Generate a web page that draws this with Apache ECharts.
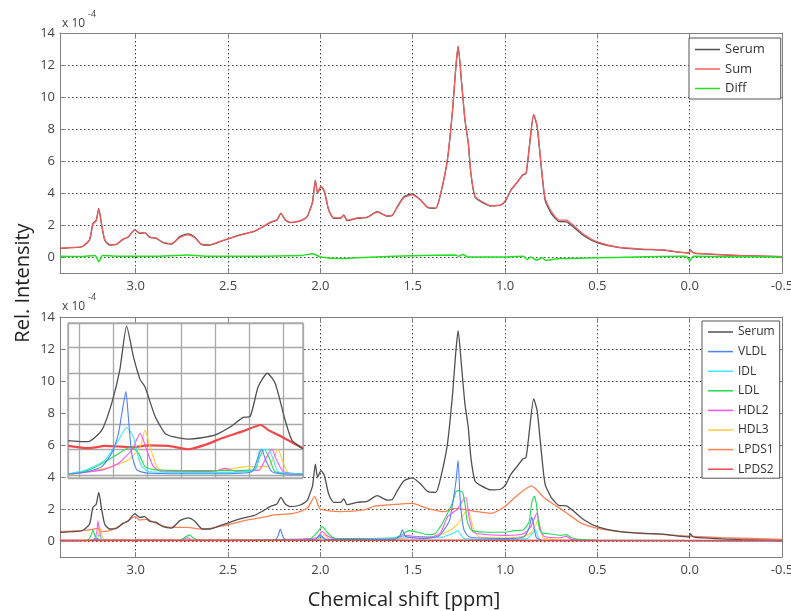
<!DOCTYPE html>
<html><head><meta charset="utf-8">
<script src="https://cdn.jsdelivr.net/npm/echarts@6/dist/echarts.min.js"></script>
<style>html,body{margin:0;padding:0;background:#fff}#c{width:791px;height:611px}</style>
</head><body><div id="c"></div>
<script>
// ---- data: [chemical shift (ppm), rel. intensity (x1e-4)] ----
const serum = [[3.41,0.54],[3.35,0.58],[3.29,0.64],[3.25,1.06],[3.232,2.1],[3.214,2.3],[3.20,3.04],[3.186,2.1],[3.168,1.06],[3.141,0.75],[3.105,0.78],[3.069,1.1],[3.042,1.23],[3.005,1.69],[2.978,1.48],[2.951,1.52],[2.924,1.23],[2.888,1.17],[2.852,0.9],[2.806,0.81],[2.761,1.27],[2.716,1.44],[2.68,1.23],[2.643,0.78],[2.598,0.75],[2.543,0.96],[2.489,1.17],[2.435,1.38],[2.362,1.58],[2.308,1.9],[2.272,2.15],[2.235,2.31],[2.214,2.73],[2.19,2.31],[2.163,2.15],[2.109,2.25],[2.072,2.52],[2.054,3.04],[2.042,3.46],[2.027,4.81],[2.015,3.98],[1.997,4.4],[1.978,4.08],[1.955,2.94],[1.928,2.42],[1.891,2.42],[1.873,2.63],[1.855,2.27],[1.80,2.42],[1.746,2.48],[1.692,2.83],[1.638,2.56],[1.61,2.6],[1.583,3.15],[1.547,3.77],[1.502,3.94],[1.457,3.56],[1.42,3.1],[1.375,3.04],[1.348,3.98],[1.312,6.06],[1.284,9.19],[1.266,11.9],[1.254,13.15],[1.235,10.85],[1.217,8.56],[1.199,7.1],[1.185,5.23],[1.163,3.77],[1.13,3.46],[1.076,3.19],[1.022,3.25],[0.995,3.56],[0.967,4.19],[0.931,4.71],[0.904,5.13],[0.886,5.23],[0.868,6.9],[0.845,8.88],[0.826,8.15],[0.804,5.65],[0.783,3.56],[0.75,2.73],[0.705,2.21],[0.668,2.2],[0.632,1.9],[0.569,1.3],[0.497,0.88],[0.388,0.6],[0.26,0.48],[0.134,0.42],[0.061,0.3],[0.005,0.25],[-0.005,0.45],[-0.015,0.3],[-0.03,0.23],[-0.12,0.17],[-0.283,0.08],[-0.5,0.02]];
const sumSpec = [[3.41,0.55],[3.35,0.6],[3.29,0.66],[3.25,1.1],[3.232,2.05],[3.214,2.25],[3.20,3.0],[3.186,2.15],[3.168,1.1],[3.141,0.78],[3.105,0.8],[3.069,1.12],[3.042,1.25],[3.005,1.7],[2.978,1.5],[2.951,1.52],[2.924,1.25],[2.888,1.18],[2.852,0.92],[2.806,0.83],[2.761,1.22],[2.716,1.38],[2.68,1.2],[2.643,0.8],[2.598,0.78],[2.543,0.98],[2.489,1.18],[2.435,1.36],[2.362,1.6],[2.308,1.92],[2.272,2.17],[2.235,2.33],[2.214,2.75],[2.19,2.33],[2.163,2.17],[2.109,2.27],[2.072,2.5],[2.054,3.0],[2.042,3.42],[2.027,4.78],[2.015,4.0],[1.997,4.42],[1.978,4.1],[1.955,2.96],[1.928,2.45],[1.891,2.45],[1.873,2.6],[1.855,2.3],[1.80,2.44],[1.746,2.5],[1.692,2.8],[1.638,2.58],[1.61,2.62],[1.583,3.12],[1.547,3.72],[1.502,3.88],[1.457,3.55],[1.42,3.12],[1.375,3.06],[1.348,4.0],[1.312,6.1],[1.284,9.2],[1.266,11.95],[1.254,13.2],[1.235,10.9],[1.217,8.6],[1.199,7.15],[1.185,5.25],[1.163,3.8],[1.13,3.5],[1.076,3.2],[1.022,3.27],[0.995,3.58],[0.967,4.2],[0.931,4.72],[0.904,5.15],[0.886,5.25],[0.868,6.95],[0.845,8.92],[0.826,8.2],[0.804,5.75],[0.783,3.7],[0.75,2.85],[0.705,2.3],[0.668,2.3],[0.632,2.0],[0.569,1.38],[0.497,0.93],[0.388,0.62],[0.26,0.5],[0.134,0.44],[0.061,0.3],[0.005,0.26],[-0.005,0.42],[-0.015,0.3],[-0.03,0.24],[-0.12,0.18],[-0.283,0.09],[-0.5,0.02]];
const diffSpec = [[3.41,0.05],[3.3,0.03],[3.22,0.1],[3.20,-0.3],[3.18,0.1],[3.1,0.05],[2.9,0.05],[2.72,0.12],[2.6,0.05],[2.4,0.05],[2.1,0.1],[2.04,0.2],[2.0,0.0],[1.88,-0.1],[1.8,-0.05],[1.6,0.05],[1.5,0.08],[1.27,0.12],[1.25,0.05],[1.23,0.15],[1.2,0.0],[1.0,0.0],[0.9,0.05],[0.88,-0.15],[0.86,0.0],[0.83,-0.2],[0.8,-0.05],[0.78,-0.2],[0.7,-0.1],[0.5,-0.05],[0.3,0.0],[0.02,0.05],[0.0,-0.25],[-0.02,0.05],[-0.2,0.02],[-0.5,0.0]];
const vldl = [[3.41,0.02],[3.25,0.03],[3.21,0.15],[3.19,0.03],[2.25,0.05],[2.23,0.3],[2.217,0.73],[2.2,0.2],[2.18,0.05],[2.03,0.1],[2.0,0.35],[1.97,0.1],[1.6,0.1],[1.57,0.3],[1.556,0.7],[1.54,0.3],[1.50,0.2],[1.45,0.15],[1.36,0.3],[1.33,0.7],[1.30,1.3],[1.28,2.6],[1.265,3.8],[1.254,5.05],[1.245,3.0],[1.235,1.6],[1.222,0.7],[1.2,0.3],[1.17,0.2],[1.0,0.15],[0.9,0.25],[0.87,0.8],[0.855,1.5],[0.845,1.0],[0.83,0.2],[0.8,0.05],[0.5,0.02],[-0.5,0.01]];
const idl = [[3.41,0.02],[3.23,0.05],[3.2,0.4],[3.18,0.05],[2.02,0.05],[2.0,0.3],[1.97,0.05],[1.52,0.2],[1.35,0.2],[1.3,0.4],[1.27,0.55],[1.255,0.65],[1.24,0.4],[1.22,0.15],[1.1,0.1],[0.88,0.15],[0.85,0.5],[0.835,0.69],[0.82,0.2],[0.8,0.05],[-0.5,0.0]];
const ldl = [[3.41,0.02],[3.26,0.05],[3.24,0.4],[3.232,0.69],[3.22,0.3],[3.2,0.05],[2.76,0.05],[2.73,0.25],[2.707,0.38],[2.69,0.2],[2.66,0.05],[2.06,0.1],[2.02,0.5],[1.99,0.9],[1.96,0.5],[1.93,0.2],[1.9,0.15],[1.6,0.2],[1.55,0.45],[1.52,0.65],[1.47,0.55],[1.42,0.4],[1.38,0.45],[1.35,0.9],[1.33,1.3],[1.30,2.0],[1.284,2.4],[1.265,3.1],[1.25,3.15],[1.23,3.05],[1.215,2.2],[1.206,1.3],[1.19,0.8],[1.176,0.65],[1.1,0.55],[1.0,0.55],[0.95,0.65],[0.9,0.7],[0.87,1.2],[0.855,2.4],[0.842,2.8],[0.83,2.3],[0.815,0.8],[0.8,0.5],[0.76,0.45],[0.7,0.35],[0.668,0.4],[0.64,0.2],[0.6,0.1],[0.5,0.05],[0.0,0.03],[-0.5,0.02]];
const hdl2 = [[3.41,0.02],[3.23,0.05],[3.21,0.6],[3.205,1.25],[3.195,0.6],[3.18,0.05],[2.75,0.05],[2.72,0.2],[2.69,0.05],[2.2,0.1],[2.02,0.2],[1.99,0.6],[1.96,0.3],[1.9,0.1],[1.6,0.15],[1.54,0.35],[1.5,0.3],[1.4,0.25],[1.35,0.5],[1.312,1.5],[1.28,1.8],[1.257,2.0],[1.23,2.5],[1.212,2.73],[1.195,1.5],[1.175,0.6],[1.15,0.45],[1.0,0.35],[0.9,0.45],[0.86,0.9],[0.835,1.6],[0.826,1.73],[0.81,0.8],[0.79,0.3],[0.7,0.2],[0.67,0.3],[0.64,0.1],[0.5,0.05],[-0.5,0.02]];
const hdl3 = [[3.41,0.02],[3.21,0.05],[3.196,0.9],[3.185,0.4],[3.17,0.05],[2.0,0.1],[1.98,0.4],[1.95,0.1],[1.55,0.15],[1.5,0.25],[1.4,0.25],[1.312,0.58],[1.26,1.0],[1.24,1.31],[1.215,1.8],[1.2,1.94],[1.185,1.4],[1.168,0.69],[1.14,0.27],[1.0,0.2],[0.9,0.3],[0.86,0.5],[0.835,1.0],[0.82,1.31],[0.805,0.6],[0.79,0.15],[0.5,0.03],[-0.5,0.01]];
const lpds1 = [[3.41,0.58],[3.25,0.69],[3.205,0.79],[3.178,0.58],[3.123,0.73],[3.05,1.21],[3.005,1.52],[2.978,1.31],[2.942,1.35],[2.87,1.0],[2.797,0.85],[2.724,0.85],[2.634,0.73],[2.507,1.0],[2.398,1.31],[2.29,1.52],[2.253,1.63],[2.145,1.73],[2.072,2.04],[2.031,2.77],[2.009,2.14],[2.0,1.98],[1.891,1.83],[1.765,1.94],[1.701,2.19],[1.638,2.25],[1.502,2.35],[1.42,2.04],[1.33,1.83],[1.276,2.04],[1.222,1.98],[1.149,1.83],[1.076,1.73],[1.003,2.14],[0.931,2.88],[0.857,3.44],[0.785,2.67],[0.676,1.83],[0.585,1.1],[0.497,0.79],[0.37,0.58],[0.189,0.44],[0.007,0.31],[-0.174,0.21],[-0.5,0.1]];
const lpds2 = [[3.41,0.04],[2.5,0.04],[2.0,0.05],[1.25,0.05],[1.0,0.04],[0.5,0.03],[0.0,0.03],[-0.5,0.03]];
// inset (zoom of 1.43-0.74 ppm, own intensity units)
const insetSerum = [[1.432,1.35],[1.388,1.31],[1.373,1.31],[1.333,1.76],[1.304,2.81],[1.28,4.12],[1.26,5.84],[1.24,4.64],[1.22,3.73],[1.206,3.46],[1.176,2.29],[1.147,1.63],[1.124,1.5],[1.078,1.41],[1.044,1.45],[0.999,1.57],[0.951,1.92],[0.917,2.26],[0.897,2.29],[0.873,3.46],[0.846,3.99],[0.823,3.6],[0.794,2.16],[0.774,1.37],[0.741,1.02]];
const insetLpds = [[1.432,1.14],[1.373,1.05],[1.323,1.14],[1.274,1.11],[1.245,1.09],[1.196,1.16],[1.137,1.14],[1.078,1.01],[1.029,1.18],[0.98,1.44],[0.921,1.7],[0.865,1.96],[0.843,1.76],[0.804,1.5],[0.741,1.05]];
const insetVldl = [[1.432,0.04],[1.38,0.12],[1.333,0.33],[1.304,0.85],[1.284,1.63],[1.274,2.42],[1.262,3.27],[1.255,2.29],[1.245,0.85],[1.23,0.2],[1.196,0.07],[1.0,0.05],[0.892,0.13],[0.873,0.72],[0.863,1.01],[0.851,0.59],[0.833,0.13],[0.8,0.04],[0.741,0.03]];
const insetIdl = [[1.432,0.04],[1.38,0.2],[1.323,0.59],[1.284,1.37],[1.26,1.86],[1.24,1.5],[1.22,0.46],[1.196,0.13],[1.0,0.1],[0.882,0.2],[0.868,0.98],[0.843,1.01],[0.828,0.59],[0.814,0.13],[0.741,0.05]];
const insetLdl = [[1.432,0.04],[1.37,0.2],[1.314,0.59],[1.274,0.92],[1.247,1.11],[1.225,0.85],[1.206,0.33],[1.176,0.2],[1.0,0.17],[0.885,0.2],[0.868,0.72],[0.855,1.01],[0.838,0.59],[0.823,0.13],[0.741,0.05]];
const insetHdl2 = [[1.432,0.04],[1.33,0.2],[1.284,0.46],[1.245,0.98],[1.22,1.63],[1.201,0.98],[1.181,0.33],[1.157,0.13],[1.0,0.15],[0.97,0.26],[0.94,0.15],[0.87,0.2],[0.853,0.59],[0.833,1.01],[0.819,0.59],[0.799,0.13],[0.741,0.05]];
const insetHdl3 = [[1.432,0.0],[1.323,0.26],[1.255,0.59],[1.22,1.11],[1.206,1.76],[1.191,1.11],[1.171,0.33],[1.147,0.13],[1.0,0.15],[0.902,0.33],[0.843,0.33],[0.815,1.01],[0.799,0.46],[0.784,0.07],[0.741,0.03]];
const topLegend = ['Serum','Sum','Diff'];
const bottomLegend = ['Serum','VLDL','IDL','LDL','HDL2','HDL3','LPDS1','LPDS2'];

const C = {Serum:'#505050',Sum:'#ff5a5a',Diff:'#22e022',VLDL:'#4f80ff',IDL:'#3ee8ff',LDL:'#22dd55',HDL2:'#ff55ee',HDL3:'#ffcc40',LPDS1:'#ff8050',LPDS2:'#f04848'};
const FONT = 'Open Sans';
const frame = '#808080';
const dotted = {show:true,lineStyle:{color:'#444',type:[1.5,2.5],width:1}};
const xFmt = v => { const r = Math.round(v*2)/2; return Math.abs(v-r)<1e-6 ? r.toFixed(1) : ''; };
const yFmt = v => { const r = Math.round(v); return (v>=0 && Math.abs(v-r)<1e-6 && r%2===0) ? String(r) : ''; };
const lineIcon = 'path://M0,0H25V1.5H0Z';

function xMain(g, pos, labels){
  return {gridIndex:g,type:'value',position:pos,inverse:true,min:-0.5,max:3.41,interval:0.5,
    axisLine:{show:true,onZero:false,lineStyle:{color:frame,width:1}},
    axisTick:{show:true,inside:true,length:5,lineStyle:{color:frame}},
    axisLabel:{show:labels,formatter:xFmt,color:'#444',fontFamily:FONT,fontSize:13,margin:7},
    splitLine:labels?dotted:{show:false}};
}
function yMain(g, pos, labels){
  return {gridIndex:g,type:'value',position:pos,min:-1,max:14,splitNumber:7,
    axisLine:{show:true,onZero:false,lineStyle:{color:frame,width:1}},
    axisTick:{show:true,inside:true,length:5,lineStyle:{color:frame}},
    axisLabel:{show:labels,formatter:yFmt,color:'#444',fontFamily:FONT,fontSize:13,margin:5},
    splitLine:labels?dotted:{show:false}};
}
function line(name, data, xi, yi, width, z, color){
  return {name:name,type:'line',data:data,xAxisIndex:xi,yAxisIndex:yi,symbol:'none',showSymbol:false,
    smooth:0.2,z:z,lineStyle:{color:color||C[name],width:width},itemStyle:{color:color||C[name]},silent:true};
}

const insetSplit = {show:true,lineStyle:{color:'#a8a8a8',width:1.3,type:'solid'}};
const option = {
  animation:false,
  grid:[
    {left:60,top:33,width:722,height:240,outerBoundsMode:'none'},
    {left:60,top:317,width:722,height:240,outerBoundsMode:'none'},
    {left:68,top:323,width:235,height:155,outerBoundsMode:'none'}
  ],
  xAxis:[xMain(0,'bottom',true),xMain(0,'top',false),xMain(1,'bottom',true),xMain(1,'top',false),
    {gridIndex:2,type:'value',inverse:true,min:0.7412,max:1.4324,splitNumber:7,z:60,
     axisLine:{show:false},axisTick:{show:false},axisLabel:{show:false},splitLine:insetSplit}],
  yAxis:[yMain(0,'left',true),yMain(0,'right',false),yMain(1,'left',true),yMain(1,'right',false),
    {gridIndex:2,type:'value',min:-0.118,max:5.96,splitNumber:6,z:60,
     axisLine:{show:false},axisTick:{show:false},axisLabel:{show:false},splitLine:insetSplit}],
  legend:[
    {data:topLegend,orient:'vertical',left:689,top:38,itemWidth:25,itemHeight:14,itemGap:6.5,icon:lineIcon,
     padding:[5,16,4,6],borderColor:'#555',borderWidth:1,backgroundColor:'#fff',selectedMode:false,
     textStyle:{fontFamily:FONT,fontSize:13,color:'#333'}},
    {data:bottomLegend,orient:'vertical',left:702,top:321,itemWidth:25,itemHeight:13,itemGap:7.6,icon:lineIcon,
     padding:[5,5,3,6],borderColor:'#555',borderWidth:1,backgroundColor:'#fff',selectedMode:false,
     textStyle:{fontFamily:FONT,fontSize:12,color:'#333'}}
  ],
  graphic:[
    {type:'rect',z:50,silent:true,shape:{x:68,y:323,width:235,height:155},style:{fill:'#fff',stroke:'#8a8a8a',lineWidth:1}},
    {type:'text',left:62,top:18,style:{text:'x 10',font:'12px "Open Sans"',fill:'#444'}},
    {type:'text',left:88,top:10,style:{text:'-4',font:'9px "Open Sans"',fill:'#444'}},
    {type:'text',left:62,top:301,style:{text:'x 10',font:'12px "Open Sans"',fill:'#444'}},
    {type:'text',left:88,top:293,style:{text:'-4',font:'9px "Open Sans"',fill:'#444'}},
    {type:'text',x:23,y:283,rotation:Math.PI/2,style:{text:'Rel. Intensity',font:'20px "Open Sans"',fill:'#222',textAlign:'center',textVerticalAlign:'middle'}},
    {type:'text',x:404,y:600,style:{text:'Chemical shift [ppm]',font:'20px "Open Sans"',fill:'#222',textAlign:'center',textVerticalAlign:'middle'}}
  ],
  series:[
    line('Serum',serum,0,0,1.3,3),
    line('Sum',sumSpec,0,0,1.2,4),
    line('Diff',diffSpec,0,0,1.5,4),
    line('LPDS1',lpds1,2,2,1.3,3),
    line('HDL3',hdl3,2,2,1.1,4),
    line('HDL2',hdl2,2,2,1.1,4),
    line('LDL',ldl,2,2,1.1,4),
    line('IDL',idl,2,2,1.1,4),
    line('VLDL',vldl,2,2,1.1,4),
    line('LPDS2',lpds2,2,2,1.6,6),
    line('Serum',serum,2,2,1.3,5),
    line('inset LPDS',insetLpds,4,4,2.2,70,'#f04848'),
    line('inset HDL3',insetHdl3,4,4,1.1,71,C.HDL3),
    line('inset HDL2',insetHdl2,4,4,1.1,71,C.HDL2),
    line('inset LDL',insetLdl,4,4,1.1,71,C.LDL),
    line('inset IDL',insetIdl,4,4,1.1,71,C.IDL),
    line('inset VLDL',insetVldl,4,4,1.1,71,C.VLDL),
    line('inset Serum',insetSerum,4,4,1.3,72,C.Serum)
  ]
};
const chart = echarts.init(document.getElementById('c'),null,{renderer:'canvas'});
chart.setOption(option);
</script></body></html>
